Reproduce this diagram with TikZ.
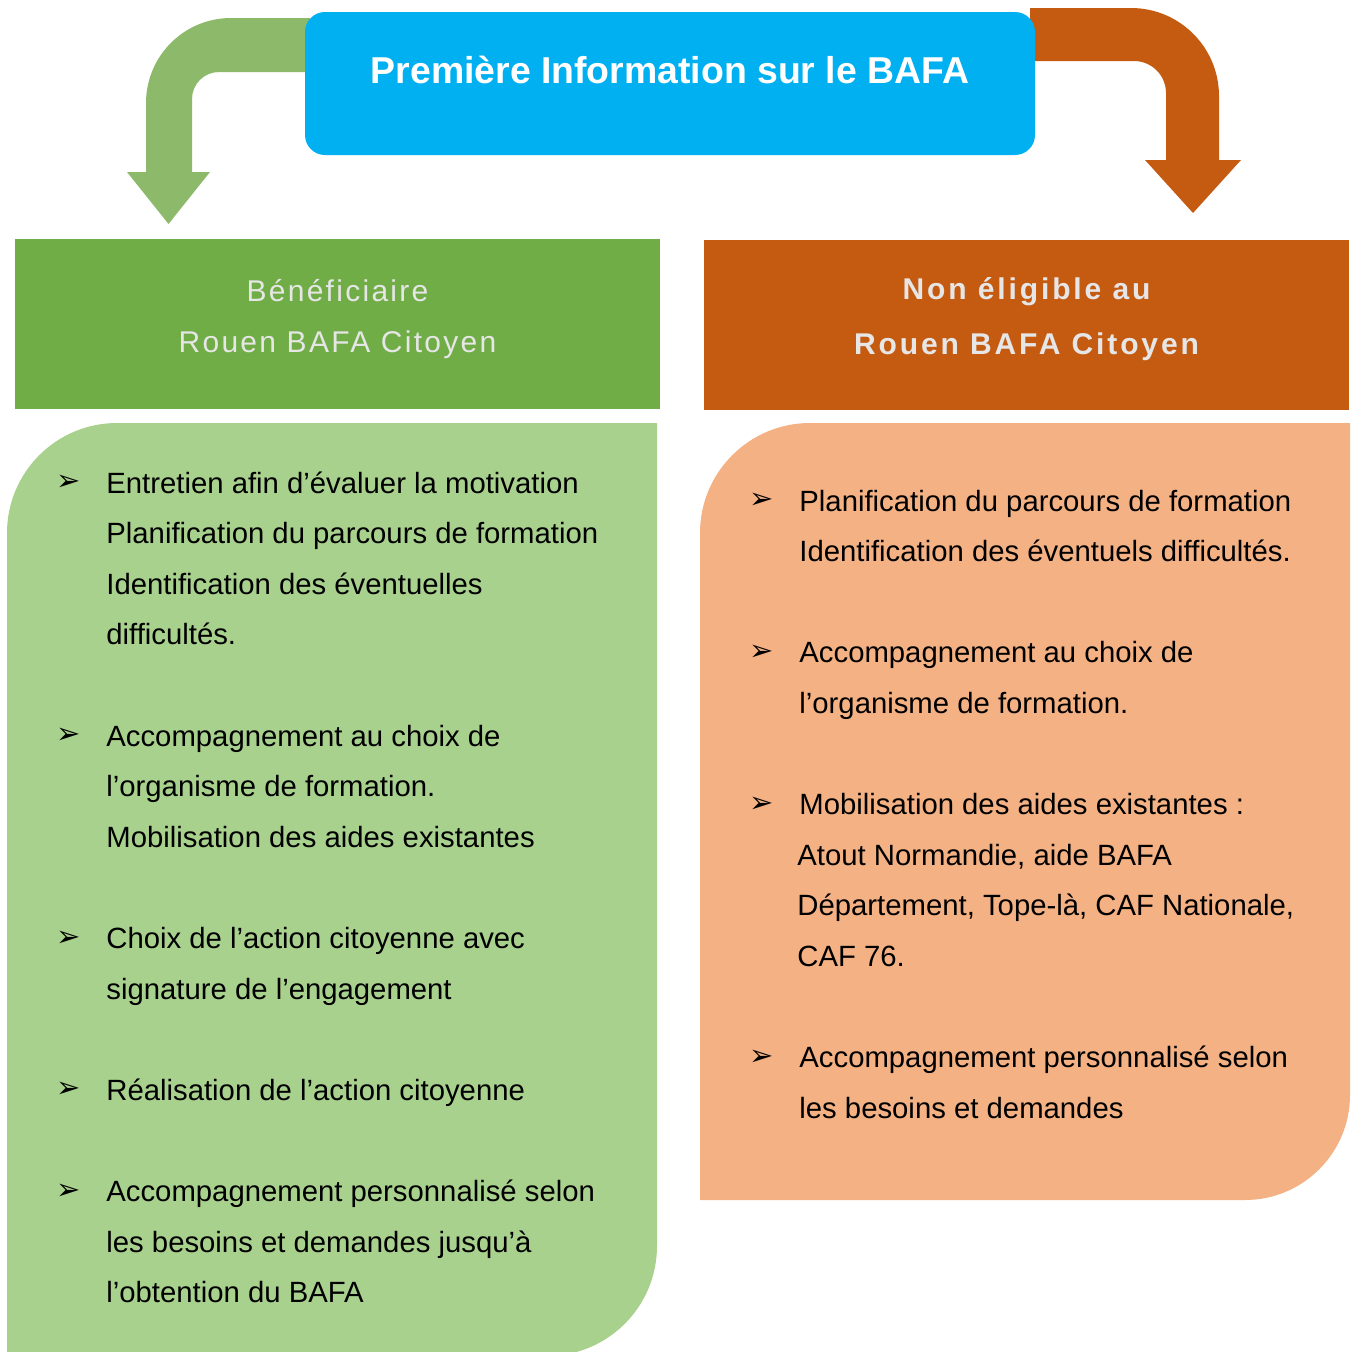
\documentclass[tikz,border=0pt]{standalone}
\usepackage{fontspec}
\setmainfont{Liberation Sans}
\newfontfamily\headfont{Liberation Sans}[LetterSpace=7.6]
\newfontfamily\headboldfont{Liberation Sans}[LetterSpace=9.6]
\newfontfamily\bulletfont{DejaVu Sans}
\usepackage{tikz}
\usetikzlibrary{positioning}
\definecolor{titleblue}{HTML}{00B0F0}
\definecolor{arrowgreen}{HTML}{8DBA6A}
\definecolor{darkorange}{HTML}{C55A11}
\definecolor{headgreen}{HTML}{70AD47}
\definecolor{bodygreen}{HTML}{A9D18E}
\definecolor{bodyorange}{HTML}{F4B183}
\definecolor{headgray}{HTML}{E6E6E6}
\begin{document}
\begin{tikzpicture}[
    x=0.5pt, y=0.5pt,
    titlebox/.style={rectangle,fill=titleblue,rounded corners=10pt,
      minimum width=365pt,minimum height=71.5pt,inner sep=0},
    headbox/.style={rectangle,minimum width=322.5pt,minimum height=85pt,inner sep=0},
    headtext/.style={text=headgray,align=center,inner sep=0,
      font=\headfont\fontsize{15pt}{25.5pt}\selectfont},
    bodytext/.style={anchor=base west,inner sep=0,
      font=\fontsize{14.65pt}{17pt}\selectfont},
    bulletmark/.style={inner sep=0,font=\bulletfont\fontsize{14.5pt}{16pt}\selectfont}
  ]
  \useasboundingbox (0,0) rectangle (1354,-1351);

  % arrows from the title
  \fill[arrowgreen] (310,-18) -- (231,-18) arc[start angle=90,end angle=180,radius=85]
    -- (146,-172) -- (127,-172) -- (168.5,-224) -- (210,-172) -- (192,-172)
    -- (192,-99) arc[start angle=180,end angle=90,radius=27] -- (310,-72) -- cycle;
  \fill[darkorange] (1030,-8) -- (1131,-8) arc[start angle=90,end angle=0,radius=88]
    -- (1219,-160) -- (1241,-160) -- (1193,-213) -- (1145,-160) -- (1166,-160)
    -- (1166,-93) arc[start angle=0,end angle=90,radius=32] -- (1030,-61) -- cycle;

  \node[titlebox] (title) at (670,-83.5) {};
  \node[text=white,inner sep=0,font=\bfseries\fontsize{18.7pt}{22pt}\selectfont]
    (titletxt) at (670,-70) {Première Information sur le BAFA};

  \node[headbox,fill=headgreen] (benef) at (337.5,-324) {};
  \node[headtext] (beneftxt) at (337.5,-319.5) {Bénéficiaire\\Rouen BAFA Citoyen};
  \node[headbox,fill=darkorange] (nonelig) at (1026.5,-325) {};
  \node[headtext,font=\headboldfont\bfseries\fontsize{15pt}{27.5pt}\selectfont]
    (noneligtxt) at (1026.5,-319.5) {Non éligible au\\Rouen BAFA Citoyen};

  \fill[bodygreen] (7,-1356) -- (7,-533) arc[start angle=180,end angle=90,radius=110]
    -- (657,-423) -- (657,-1246) arc[start angle=0,end angle=-90,radius=110] -- cycle;
  \fill[bodyorange] (700,-1200) -- (700,-533) arc[start angle=180,end angle=90,radius=110]
    -- (1350,-423) -- (1350,-1095) arc[start angle=0,end angle=-90,radius=105] -- cycle;

  \foreach \k/\txt in {0/{Entretien afin d’évaluer la motivation},
      1/{Planification du parcours de formation},
      2/{Identification des éventuelles},
      3/{difficultés.},
      5/{Accompagnement au choix de},
      6/{l’organisme de formation.},
      7/{Mobilisation des aides existantes},
      9/{Choix de l’action citoyenne avec},
      10/{signature de l’engagement},
      12/{Réalisation de l’action citoyenne},
      14/{Accompagnement personnalisé selon},
      15/{les besoins et demandes jusqu’à},
      16/{l’obtention du BAFA}}
    \node[bodytext] (g\k) at (106,{-493-50.6*\k}) {\txt};
  \foreach \k in {0,5,9,12,14}
    \node[bulletmark] (gb\k) at (69,{-483-50.6*\k}) {➢};

  \foreach \k/\txt in {0/{Planification du parcours de formation},
      1/{Identification des éventuels difficultés.},
      3/{Accompagnement au choix de},
      4/{l’organisme de formation.},
      6/{Mobilisation des aides existantes :},
      11/{Accompagnement personnalisé selon},
      12/{les besoins et demandes}}
    \node[bodytext] (o\k) at (799,{-511-50.6*\k}) {\txt};
  \foreach \k/\txt in {7/{Atout Normandie, aide BAFA},
      8/{Département, Tope-là, CAF Nationale,},
      9/{CAF 76.}}
    \node[bodytext] (o\k) at (797,{-511-50.6*\k}) {\txt};
  \foreach \k in {0,3,6,11}
    \node[bulletmark] (ob\k) at (762,{-501-50.6*\k}) {➢};
\end{tikzpicture}
\end{document}
